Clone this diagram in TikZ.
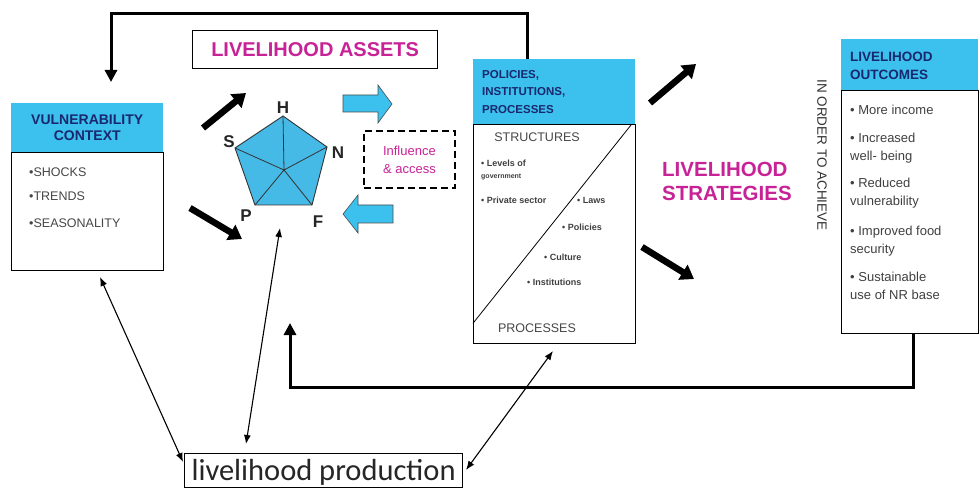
\documentclass[tikz,border=0pt]{standalone}
\usepackage{fontspec}
\setmainfont{Liberation Sans}
\newfontfamily\calibri{Carlito}
\usetikzlibrary{arrows.meta,calc}
\definecolor{hdr}{RGB}{60,192,238}
\definecolor{penta}{RGB}{70,186,230}
\definecolor{hdrtext}{RGB}{25,40,110}
\definecolor{mag}{RGB}{200,35,150}
\definecolor{gtext}{RGB}{70,70,70}
\begin{document}
\begin{tikzpicture}[x=1pt,y=-1pt,
  bodybox/.style={draw, line width=1.3pt, inner sep=0pt, anchor=north west},
  hdrbox/.style={fill=hdr, inner sep=0pt, anchor=north west},
  hdrtxt/.style={text=hdrtext, align=left, inner sep=0pt},
  itm/.style={font=\fontsize{12.5}{14}\selectfont, text=gtext, anchor=west, inner sep=0pt},
  smitm/.style={font=\fontsize{9}{11}\selectfont\bfseries, text=black!75, anchor=west, inner sep=0pt},
  outitm/.style={font=\fontsize{13}{15}\selectfont, text=black!75, anchor=west, inner sep=0pt},
  magtxt/.style={font=\fontsize{20}{24}\selectfont\bfseries, text=mag, inner sep=0pt},
  fatarrow/.style={line width=6.5pt, -{Triangle[length=13pt,width=17pt]}},
  feedback/.style={line width=3pt, -{Triangle[length=12pt,width=12pt]}},
  thin/.style={line width=1.1pt, {Latex[length=9pt,width=7pt]}-{Latex[length=9pt,width=7pt]}},
  blockarrow/.style={fill=hdr, draw=black!70, line width=0.6pt},
  plabel/.style={font=\fontsize{17}{19}\selectfont\bfseries, text=black!85, inner sep=0pt}
]
\useasboundingbox (0,0) rectangle (980,489);
\fill[white] (0,0) rectangle (980,489);

% Vulnerability context
\node[hdrbox, minimum width=152pt, minimum height=49pt] (vhead) at (11,103) {};
\node[bodybox, minimum width=152pt, minimum height=118pt] (vbody) at (11,152) {};
\node[hdrtxt, align=center, font=\fontsize{14}{16}\selectfont\bfseries] (vtitle) at (vhead.center) {VULNERABILITY\\CONTEXT};
\node[itm] (v1) at (29,172) {•SHOCKS};
\node[itm] (v2) at (29,196) {•TRENDS};
\node[itm] (v3) at (29,223) {•SEASONALITY};

% Livelihood assets
\node[draw, line width=1.3pt, minimum width=245pt, minimum height=38pt, inner sep=0pt, anchor=north west] (assets) at (192,30) {};
\node[magtxt] (assetstxt) at (assets.center) {LIVELIHOOD ASSETS};

% Pentagon
\coordinate (pH) at (283,116);
\coordinate (pN) at (327,147);
\coordinate (pF) at (312,205);
\coordinate (pP) at (255,205);
\coordinate (pS) at (235,148);
\coordinate (pC) at (284,170);
\filldraw[fill=penta, draw=black!80, line width=0.9pt] (pH) -- (pN) -- (pF) -- (pP) -- (pS) -- cycle;
\draw[black!80, line width=0.8pt] (pC) -- (pH) (pC) -- (pN) (pC) -- (pF) (pC) -- (pP) (pC) -- (pS);
\node[plabel] (lH) at (283,108) {H};
\node[plabel] (lS) at (229,142) {S};
\node[plabel] (lN) at (338,153) {N};
\node[plabel] (lP) at (246,216) {P};
\node[plabel] (lF) at (318,222) {F};

% block arrows
\filldraw[blockarrow] (343,95) -- (378,95) -- (378,85) -- (392,104) -- (378,123) -- (378,112) -- (343,112) -- cycle;
\filldraw[blockarrow] (393,205) -- (358,205) -- (358,195) -- (343,214) -- (358,233) -- (358,223) -- (393,223) -- cycle;

% Influence box
\node[draw, line width=1.8pt, dash pattern=on 7pt off 4pt, minimum width=91pt, minimum height=57pt, inner sep=0pt, anchor=north west] (infl) at (363,130) {};
\node[font=\fontsize{13}{18}\selectfont, text=mag, align=center, inner sep=0pt] (infltxt) at (infl.center) {Influence\\\& access};

% Policies box
\node[hdrbox, minimum width=162pt, minimum height=65pt] (phead) at (473,59) {};
\node[bodybox, minimum width=162pt, minimum height=219pt] (pbody) at (473,124) {};
\node[hdrtxt, anchor=west, font=\fontsize{11.5}{17.5}\selectfont\bfseries] (ptitle) at (482,92) {POLICIES,\\INSTITUTIONS,\\PROCESSES};
\draw[line width=0.8pt] (pbody.south west) ++(0,-21) coordinate (dA) -- (631,125) coordinate (dB);
\node[font=\fontsize{12.5}{14}\selectfont, text=gtext, inner sep=0pt] (struct) at (537,137) {STRUCTURES};
\node[smitm] (s1) at (481,163) {• Levels of};
\node[smitm, font=\fontsize{7}{8}\selectfont\bfseries] (s1b) at (481,177) {government};
\node[smitm] (s2) at (481,200) {• Private sector};
\node[smitm] (s3) at (577,200) {• Laws};
\node[smitm] (s4) at (562,227) {• Policies};
\node[smitm] (s5) at (544,257) {• Culture};
\node[smitm] (s6) at (527,282) {• Institutions};
\node[font=\fontsize{12.5}{14}\selectfont, text=gtext, inner sep=0pt] (proc) at (537,328) {PROCESSES};

% Livelihood strategies
\node[magtxt, align=left, anchor=west, font=\fontsize{20.5}{24}\selectfont\bfseries] (strat) at (662,181) {LIVELIHOOD\\STRATEGIES};

% In order to achieve
\node[font=\fontsize{13.5}{15}\selectfont, text=black!80, rotate=-90, inner sep=0pt] (achieve) at (822,155) {IN ORDER TO ACHIEVE};

% Outcomes box
\node[hdrbox, minimum width=137pt, minimum height=51pt] (ohead) at (841,39) {};
\node[bodybox, minimum width=137pt, minimum height=243pt] (obody) at (841,90) {};
\node[hdrtxt, anchor=west, font=\fontsize{13.5}{18}\selectfont\bfseries] (otitle) at (850,66) {LIVELIHOOD\\OUTCOMES};
\node[outitm] (o1) at (850,110) {• More income};
\node[outitm] (o2) at (850,138) {• Increased};
\node[outitm] (o2b) at (850,157) {well- being};
\node[outitm] (o3) at (850,183) {• Reduced};
\node[outitm] (o3b) at (850,202) {vulnerability};
\node[outitm] (o4) at (850,232) {• Improved food};
\node[outitm] (o4b) at (850,250) {security};
\node[outitm] (o5) at (850,277) {• Sustainable};
\node[outitm] (o5b) at (850,295) {use of NR base};

% Production box
\node[draw, line width=1.2pt, minimum width=278pt, minimum height=34pt, inner sep=0pt, anchor=north west] (prod) at (184,453) {};
\node[font=\calibri\fontsize{30.5}{32}\selectfont, text=black!85, inner sep=0pt, anchor=base] (prodtxt) at ($(prod.south)+(0,-8)$) {livelihood production};

% Fat black arrows
\coordinate (a1s) at (203,128); \coordinate (a1e) at (246,93);
\coordinate (a2s) at (190,208); \coordinate (a2e) at (242,239);
\coordinate (a3s) at (650,103); \coordinate (a3e) at (696,64);
\coordinate (a4s) at (642,247); \coordinate (a4e) at (694,279);
\draw[fatarrow] (a1s) -- (a1e);
\draw[fatarrow] (a2s) -- (a2e);
\draw[fatarrow] (a3s) -- (a3e);
\draw[fatarrow] (a4s) -- (a4e);

% Feedback arrows
\coordinate (f1s) at (527,59);
\coordinate (f1e) at (111,82);
\draw[feedback] (f1s) -- (527,14) -- (111,14) -- (f1e);
\coordinate (f2s) at (913,333);
\coordinate (f2e) at (290,323);
\draw[feedback] (f2s) -- (913,387) -- (290,387) -- (f2e);

% thin double arrows
\coordinate (t1a) at (100,277);
\coordinate (t1b) at (183,462);
\draw[thin] (t1a) -- (t1b);
\coordinate (t2a) at (280,228);
\coordinate (t2b) at (246,444);
\draw[thin] (t2a) -- (t2b);
\coordinate (t3a) at (553,351);
\coordinate (t3b) at (466,470);
\draw[thin] (t3a) -- (t3b);
\end{tikzpicture}
\end{document}
